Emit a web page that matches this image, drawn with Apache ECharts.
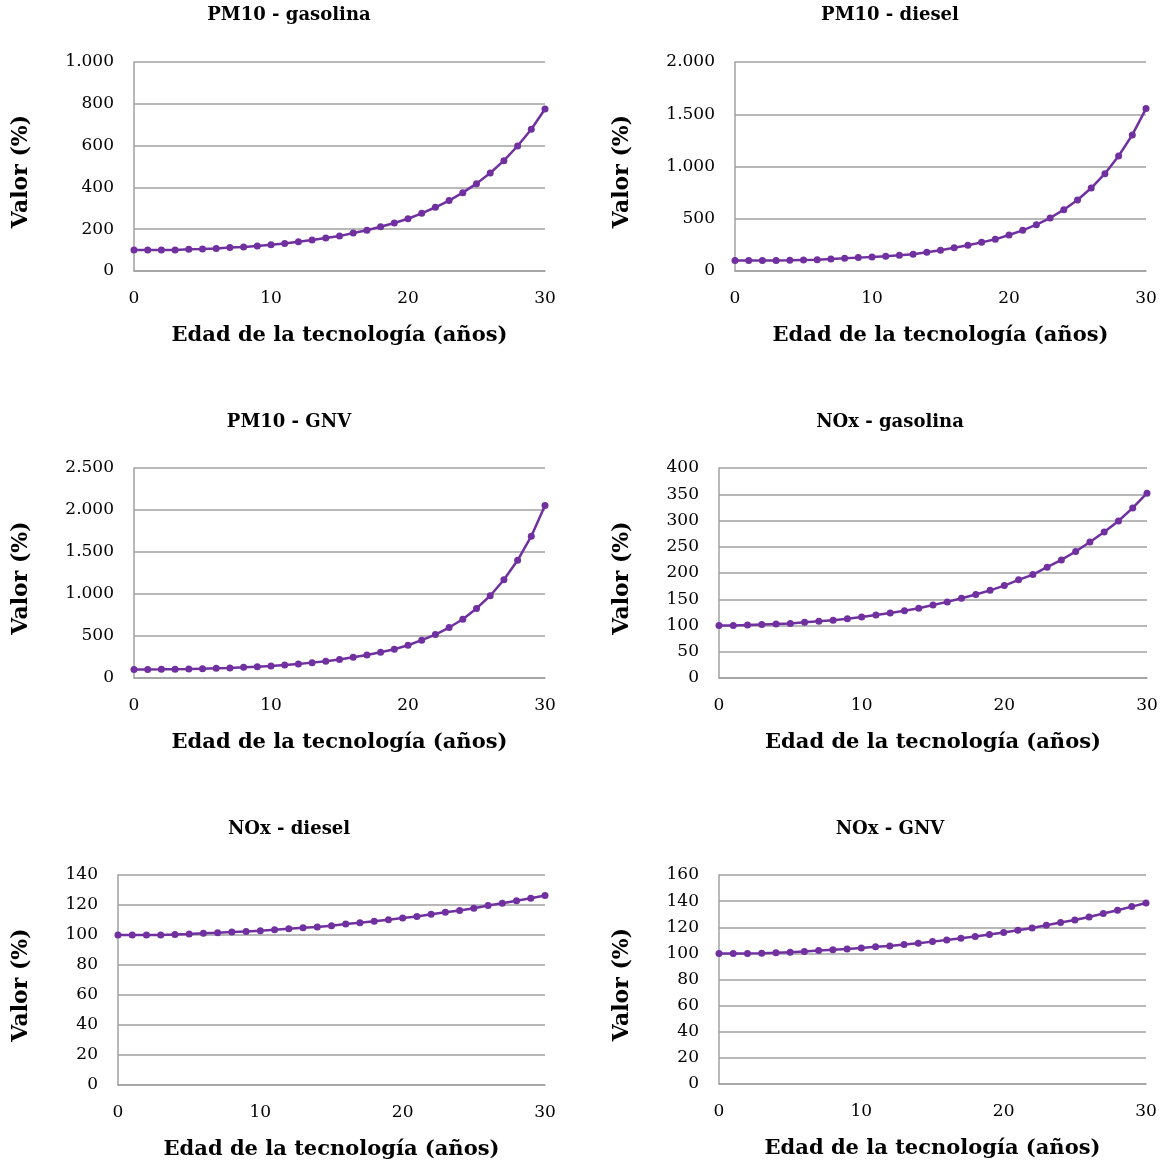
<!DOCTYPE html>
<html>
<head>
<meta charset="utf-8">
<script src="https://cdn.jsdelivr.net/npm/echarts@6/dist/echarts.min.js"></script>
<style>html,body{margin:0;padding:0;background:#fff;}#c{width:1167px;height:1165px;}</style>
</head>
<body>
<div id="c"></div>
<script>
const years = Array.from({length: 31}, (_, i) => i);
const titles = ['PM10 - gasolina', 'PM10 - diesel', 'PM10 - GNV', 'NOx - gasolina', 'NOx - diesel', 'NOx - GNV'];
const pm10Gasolina = [100,100,100,101,104,105,108,112,115,120,126,132,140,148,158,167,182,195,212,230,250,276,305,337,375,418,469,528,598,678,775];
const pm10Diesel = [100,100,100,100,102,105,108,115,121,128,134,140,150,160,179,198,223,246,274,303,345,389,443,507,587,679,794,931,1100,1302,1554];
const pm10GNV = [100,102,103,105,107,111,115,119,127,135,143,155,167,183,199,219,247,275,306,342,390,450,517,601,700,828,979,1170,1401,1688,2054];
const noxGasolina = [100,100,101,102,103,104,106,108,110,113,116,120,124,128,133,139,145,152,159,167,176,187,197,211,225,241,259,278,299,324,352];
const noxDiesel = [100,100,100,100,100.4,100.6,101.1,101.5,102,102.4,102.8,103.5,104.2,104.9,105.3,106.2,107.3,108.2,109.1,110.2,111.3,112.4,113.8,115.1,116.4,117.8,119.6,121.1,122.9,124.5,126.4];
const noxGNV = [100,100,100,100.1,100.4,100.9,101.4,102.2,102.7,103.4,104.2,105,105.7,106.8,107.8,109,110.3,111.6,112.9,114.4,115.9,117.7,119.5,121.5,123.6,125.6,127.9,130.5,133,135.8,138.6];
const seriesData = [pm10Gasolina, pm10Diesel, pm10GNV, noxGasolina, noxDiesel, noxGNV];
const yMax = [1000, 2000, 2500, 400, 140, 160];
const yInterval = [200, 500, 500, 50, 20, 20];
const xTicks = [0, 10, 20, 30];
const xName = 'Edad de la tecnología (años)';
const yName = 'Valor (%)';

const grids = [
  {left: 134, top: 62, width: 411, height: 209},
  {left: 735, top: 62, width: 411, height: 209},
  {left: 134, top: 468, width: 411, height: 210},
  {left: 719, top: 468, width: 428, height: 210},
  {left: 118, top: 875, width: 427, height: 210},
  {left: 719, top: 875, width: 427, height: 209}
];
const titlePos = [[289, 15], [890, 15], [289, 422], [890, 422], [289, 829], [890, 829]];
const yNameX = [20, 621, 20, 621, 20, 621];

const serif = '"DejaVu Serif", serif';
const gray = '#a0a0a0';
const purple = '#7030a0';

function fmt(v) {
  return String(v).replace(/\B(?=(\d{3})+(?!\d))/g, '.');
}

const option = {
  animation: false,
  backgroundColor: '#fff',
  grid: grids.map(g => Object.assign({containLabel: false}, g)),
  xAxis: grids.map((g, i) => ({
    gridIndex: i, type: 'value', min: 0, max: 30, interval: 10,
    name: xName, nameLocation: 'middle', nameGap: 54,
    nameTextStyle: {fontFamily: serif, fontWeight: 'bold', fontSize: 21, color: '#000'},
    axisLine: {show: true, onZero: false, lineStyle: {color: gray, width: 1.5}},
    axisTick: {show: false},
    splitLine: {show: false},
    axisLabel: {fontFamily: serif, fontSize: 17, color: '#000', margin: 19, formatter: v => xTicks.includes(v) ? String(v) : ''}
  })),
  yAxis: grids.map((g, i) => ({
    gridIndex: i, type: 'value', min: 0, max: yMax[i], interval: yInterval[i],
    name: yName, nameLocation: 'middle', nameGap: (g.left - yNameX[i]) - 12,
    nameTextStyle: {fontFamily: serif, fontWeight: 'bold', fontSize: 22, color: '#000', padding: [0, 10, 0, 0]},
    axisLine: {show: true, lineStyle: {color: gray, width: 1.5}},
    axisTick: {show: false},
    splitLine: {show: true, lineStyle: {color: gray, width: 1.5}},
    axisLabel: {fontFamily: serif, fontSize: 17, color: '#000', margin: 20, formatter: v => fmt(v)}
  })),
  series: seriesData.map((d, i) => ({
    type: 'line', xAxisIndex: i, yAxisIndex: i,
    data: years.map((y, k) => [y, d[k]]),
    symbol: 'circle', symbolSize: 7,
    lineStyle: {color: purple, width: 2.5},
    itemStyle: {color: purple},
    z: 3
  })),
  graphic: titles.map((t, i) => ({
    type: 'text', x: titlePos[i][0], y: titlePos[i][1],
    style: {text: t, fontFamily: serif, fontWeight: 'bold', fontSize: 18, fill: '#000', align: 'center', verticalAlign: 'middle'}
  }))
};

const chart = echarts.init(document.getElementById('c'), null, {renderer: 'canvas'});
chart.setOption(option);
</script>
</body>
</html>
